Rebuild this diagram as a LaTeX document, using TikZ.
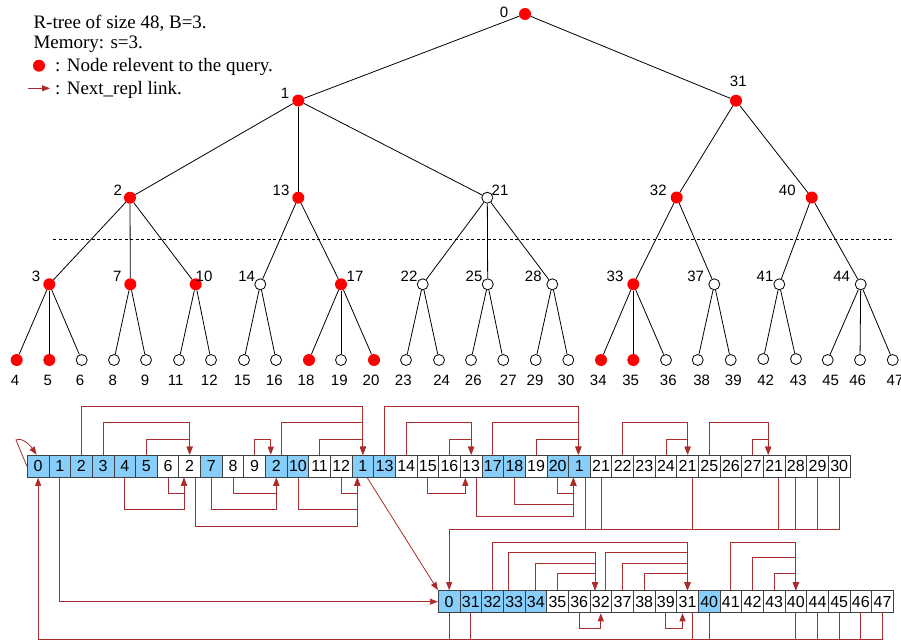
\documentclass[tikz,border=0pt]{standalone}
\usepackage{fontspec}
\setmainfont{Liberation Serif}
\setsansfont{Liberation Sans}
\usetikzlibrary{arrows.meta}
\definecolor{replred}{RGB}{172,44,44}
\definecolor{cellblue}{RGB}{135,206,250}

\begin{document}
\begin{tikzpicture}[x=1pt,y=-1pt,
    hit/.style={circle,fill=red,inner sep=0pt,minimum size=12pt},
    miss/.style={circle,draw,fill=white,line width=0.8pt,inner sep=0pt,minimum size=11pt},
    lab/.style={inner sep=0pt,font=\sffamily\fontsize{15}{15}\selectfont},
    cell/.style={draw=black!75,line width=0.8pt,inner sep=0pt,minimum width=21.65pt,minimum height=22.3pt,font=\sffamily\fontsize{16}{16}\selectfont},
    cb/.style={cell,fill=cellblue},
    cw/.style={cell,fill=white},
    repl/.style={draw=replred,line width=0.8pt},
    nxt/.style={-{Triangle[length=8pt,width=6pt]}},
    txt/.style={inner sep=0pt,anchor=base west,font=\fontsize{19}{21}\selectfont}]
  \useasboundingbox (0,0) rectangle (901,642);

  % legend
  \node[txt] (cap1) at (33.3,28.3) {R-tree of size 48, B=3.};
  \node[txt] (cap2) at (33.3,48.3) {Memory: s=3.};
  \node[hit] (legdot) at (39,65.7) {};
  \node[txt] (cap3) at (55,71.7) {: Node relevent to the query.};
  \coordinate (legA) at (28,88.3);
  \coordinate (legB) at (50,88.3);
  \draw[repl,nxt] (legA) -- (legB);
  \node[txt] (cap4) at (55,94) {: Next\_repl link.};

  % the tree
  \foreach \n/\x/\y/\s/\lx/\ly in {0/525/14/hit/504/12.7, 1/298.3/100.5/hit/285/93.3, 31/736/100.7/hit/738.3/81.7,
      2/130/197.7/hit/117.7/190, 13/298.3/197.7/hit/281/190, 21/487.3/197.7/miss/500/190,
      32/676.7/197.5/hit/658.3/190, 40/811.7/197.5/hit/787.3/190,
      3/49.3/284.3/hit/36/276.7, 7/130.3/284.3/hit/117.3/276.7, 10/195.7/284.3/hit/204/276.7,
      14/260.3/284.3/miss/246.7/276.7, 17/341/284.3/hit/355/276.7, 22/422.7/284.3/miss/409/276.7,
      25/487.7/284.3/miss/474/276.7, 28/552.3/284.3/miss/533.3/276.7, 33/633.3/284.3/hit/615/276.7,
      37/714.3/284.3/miss/695.7/276.7, 41/779.3/284.3/miss/765/276.7, 44/860.7/284.3/miss/841.7/276.7,
      4/16.7/360/hit/15/380.7, 5/49.3/360/hit/47.7/380.7, 6/81.7/360/miss/80/380.7,
      8/114/360/miss/112.7/380.7, 9/146/360/miss/145/380.7, 11/179/360/miss/175.7/380.7,
      12/211/360/miss/209.3/380.7, 15/244/360/miss/242.3/380.7, 16/276/360/miss/274.3/380.7,
      18/309/360/hit/306/380.7, 19/341/360/miss/339.3/380.7, 20/374/360/hit/371/380.7,
      23/406/360/miss/403.3/380.7, 24/439/360/miss/441.7/380.7, 26/471/360/miss/473.3/380.7,
      27/503.3/360/miss/508.3/380.7, 29/535.7/360/miss/535/380.7, 30/568.3/360/miss/566/380.7,
      34/601/360/hit/598.3/380.7, 35/633.3/360/hit/630.7/380.7, 36/666/360/miss/668.3/380.7,
      38/697.7/360/miss/701.7/380.7, 39/730.7/360/miss/733.3/380.7, 42/763.3/359/miss/765.7/380.7,
      43/796/359/miss/798.3/380.7, 45/827.7/360/miss/830.7/380.7, 46/860/360/miss/857.7/380.7,
      47/892.7/360/miss/895/380.7}{
    \node[\s] (t\n) at (\x,\y) {};
    \node[lab] (l\n) at (\lx,\ly) {\n};
  }
  \foreach \p/\c in {0/1,0/31,1/2,1/13,1/21,31/32,31/40,2/3,2/7,2/10,13/14,13/17,
      21/22,21/25,21/28,32/33,32/37,40/41,40/44,3/4,3/5,3/6,7/8,7/9,10/11,10/12,
      14/15,14/16,17/18,17/19,17/20,22/23,22/24,25/26,25/27,28/29,28/30,
      33/34,33/35,33/36,37/38,37/39,41/42,41/43,44/45,44/46,44/47}
    \draw[line width=0.8pt] (t\p) -- (t\c);
  \draw[line width=0.8pt,dash pattern=on 3pt off 2.5pt] (53.3,239) -- (891.7,239);

  % first array
  \foreach \v/\c [count=\i from 0] in {0/cb,1/cb,2/cb,3/cb,4/cb,5/cb,6/cw,2/cw,7/cb,8/cw,9/cw,2/cb,
      10/cb,11/cw,12/cw,1/cb,13/cb,14/cw,15/cw,16/cw,13/cw,17/cb,18/cb,19/cw,20/cb,1/cb,
      21/cw,22/cw,23/cw,24/cw,21/cw,25/cw,26/cw,27/cw,21/cw,28/cw,29/cw,30/cw}
    \node[\c] (a\i) at ({27.3+21.65*(\i+0.5)},466.2) {\v};

  % second array
  \foreach \v/\c [count=\i from 0] in {0/cb,31/cb,32/cb,33/cb,34/cb,35/cw,36/cw,32/cw,37/cw,38/cw,
      39/cw,31/cw,40/cb,41/cw,42/cw,43/cw,40/cw,44/cw,45/cw,46/cw,47/cw}
    \node[\c] (b\i) at ({438.3+21.67*(\i+0.5)},601.7) {\v};

  % next_repl links over and under the first array
  \foreach \s/\ds/\t/\dt/\h in {2/0/15/0/48,3/0/7/0/32,5/0/7/0/15,10/0/11/-5.5/15,11/5/15/0/32,
      13/0/15/0/15,16/0/25/-1/48,17/0/20/0/32,19/0/20/0/15,21/0/25/-1/32,23/0/25/-1/15,
      27/0/30/0/32,29/0/30/0/15,31/0/34/-6/32,33/0/34/-6/15}
    \draw[repl,nxt] ([xshift=\ds pt]a\s.north) -- ++(0,-\h) -| ([xshift=\dt pt]a\t.north);
  \foreach \s/\ds/\t/\dt/\h in {4/0/7/-5.7/32,6/0/7/-5.7/16,8/0/11/0/32,9/0/11/0/16,
      7/5.3/15/-5.6/48.7,12/0/15/-5.6/32,14/0/15/-5.6/16,18/0/20/-5.8/16,
      22/0/25/-6/27,24/0/25/-6/16,20/5.6/25/-6/38.4}
    \draw[repl,nxt] ([xshift=\ds pt]a\s.south) -- ++(0,\h) -| ([xshift=\dt pt]a\t.south);

  % next_repl links over and under the second array
  \foreach \s/\ds/\t/\dt/\h in {2/0/11/0/47.7,3/-5.8/7/-5.8/37.4,4/0/7/-5.8/26.7,5/0/7/-5.8/16.4,
      7/5/11/0/37.4,8/0/11/0/26.7,9/0/11/0/16.4,13/0/16/0/47.7,14/0/16/0/32.4,15/0/16/0/16.4}
    \draw[repl,nxt] ([xshift=\ds pt]b\s.north) -- ++(0,-\h) -| ([xshift=\dt pt]b\t.north);
  \foreach \s/\ds/\t/\dt/\h in {6/0/7/0/15.6,10/0/11/-5/15.6}
    \draw[repl,nxt] ([xshift=\ds pt]b\s.south) -- ++(0,\h) -| ([xshift=\dt pt]b\t.south);

  % links between the two arrays
  \coordinate (loop0) at (16,440);
  \draw[repl,nxt] (a0.west) -- (loop0) .. controls (22,437) and (30,445) .. ([xshift=-1.5pt]a0.north);
  \draw[repl,nxt] ([xshift=4.4pt]a15.south) -- (b0.north west);
  \draw[repl,nxt] (a1.south) |- (b0.west);
  \draw[repl,nxt] (a37.south) -- ++(0,51.7) -| (b0.north);
  \foreach \s/\ds in {25/5.6,26/0,30/5,34/4,35/0,36/0}
    \draw[repl] ([xshift=\ds pt]a\s.south) -- ++(0,51.7);
  \draw[repl,nxt] (b20.south) -- ++(0,26.3) -| (a0.south);
  \foreach \s/\ds in {0/0,1/0,11/5,12/0,16/0,17/0,18/0,19/0}
    \draw[repl] ([xshift=\ds pt]b\s.south) -- ++(0,26.3);
\end{tikzpicture}
\end{document}
